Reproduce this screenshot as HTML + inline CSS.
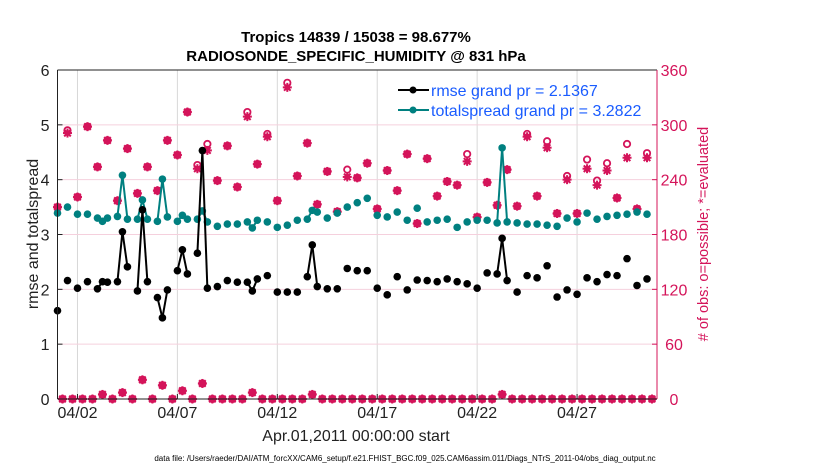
<!DOCTYPE html>
<html><head><meta charset="utf-8"><style>
body{margin:0;background:#fff;}
svg{display:block;font-family:"Liberation Sans",Arial,sans-serif;}
</style></head><body>
<svg id="chart" width="830" height="470" viewBox="0 0 830 470">
<rect width="830" height="470" fill="#fff"/>
<text x="356" y="42" text-anchor="middle" font-size="15" font-weight="bold">Tropics 14839 / 15038 = 98.677%</text>
<text x="356" y="61" text-anchor="middle" font-size="15" font-weight="bold">RADIOSONDE_SPECIFIC_HUMIDITY @ 831 hPa</text>
<g id="grid"></g>
<g id="marks"></g>
<g id="axes"></g>
<g>
<line x1="398" y1="90" x2="429" y2="90" stroke="#000" stroke-width="2"/>
<circle cx="413" cy="90" r="3.5" fill="#000"/>
<text x="431" y="96" font-size="16" fill="#1a5cff">rmse grand pr = 2.1367</text>
<line x1="398" y1="110" x2="429" y2="110" stroke="#008080" stroke-width="2"/>
<circle cx="413" cy="110" r="3.5" fill="#008080"/>
<text x="431" y="116" font-size="16" fill="#1a5cff">totalspread grand pr = 3.2822</text>
</g>
<text x="356" y="441" text-anchor="middle" font-size="16" fill="#222">Apr.01,2011 00:00:00 start</text>
<text transform="translate(38,234) rotate(-90)" text-anchor="middle" font-size="16" fill="#222">rmse and totalspread</text>
<text transform="translate(708,234) rotate(-90)" text-anchor="middle" font-size="14.5" fill="#d4145a"># of obs: o=possible; *=evaluated</text>
<text x="405" y="461" text-anchor="middle" font-size="8" fill="#000">data file: /Users/raeder/DAI/ATM_forcXX/CAM6_setup/f.e21.FHIST_BGC.f09_025.CAM6assim.011/Diags_NTrS_2011-04/obs_diag_output.nc</text>
</svg>
<script>
// times in 6-hour steps from Apr 01 00Z
const rmseK = [0,2,4,6,8,9,10,12,13,14,16,17,18,20,21,22,24,25,26,28,29,30,32,34,36,38,39,40,42,44,46,48,50,51,52,54,56,58,60,62,64,66,68,70,72,74,76,78,80,82,84,86,88,89,90,92,94,96,98,100,102,104,106,108,110,112,114,116,118];
const rmseVals = [1.61,2.16,2.02,2.14,2.01,2.14,2.13,2.14,3.05,2.41,1.97,3.45,2.14,1.85,1.48,1.99,2.34,2.72,2.28,2.66,4.53,2.02,2.05,2.16,2.13,2.13,1.97,2.19,2.25,1.95,1.95,1.95,2.23,2.81,2.05,2.01,2.01,2.38,2.34,2.34,2.02,1.90,2.23,1.99,2.17,2.16,2.14,2.19,2.14,2.10,2.02,2.30,2.28,2.93,2.16,1.95,2.25,2.21,2.43,1.86,1.99,1.91,2.21,2.14,2.27,2.25,2.56,2.07,2.19];
const spreadVals = [3.39,3.50,3.37,3.37,3.30,3.24,3.30,3.33,4.08,3.28,3.28,3.63,3.28,3.24,4.01,3.32,3.24,3.35,3.28,3.28,3.43,3.23,3.15,3.19,3.19,3.23,3.12,3.26,3.23,3.13,3.17,3.26,3.28,3.44,3.41,3.30,3.39,3.50,3.58,3.66,3.35,3.32,3.41,3.26,3.48,3.23,3.26,3.28,3.13,3.23,3.26,3.26,3.21,4.58,3.23,3.21,3.19,3.19,3.17,3.15,3.30,3.23,3.39,3.28,3.33,3.35,3.37,3.41,3.37];
const obsK = [0,2,4,6,8,10,12,14,16,18,20,22,24,26,28,30,32,34,36,38,40,42,44,46,48,50,52,54,56,58,60,62,64,66,68,70,72,74,76,78,80,82,84,86,88,90,92,94,96,98,100,102,104,106,108,110,112,114,116,118];
const evaluated = [210,291,221,298,254,283,217,274,225,254,228,283,267,314,252,272,239,277,232,309,257,287,217,341,244,280,213,249,205,243,242,258,208,250,228,268,192,263,222,238,234,260,199,237,212,251,211,287,222,275,203,240,203,252,234,250,220,264,208,264];
const possible = [210,294,221,298,254,283,217,274,225,254,228,283,267,314,256,279,239,277,232,314,257,290,217,346,244,280,213,249,205,251,242,258,208,250,228,268,192,263,222,238,234,268,199,237,212,251,211,290,222,282,203,244,203,262,239,258,220,279,208,269];
const offK = [1,3,5,7,9,11,13,15,17,19,21,23,25,27,29,31,33,35,37,39,41,43,45,47,49,51,53,55,57,59,61,63,65,67,69,71,73,75,77,79,81,83,85,87,89,91,93,95,97,99,101,103,105,107,109,111,113,115,117,119];
const offVals = [0,0,0,0,5,0,7,0,21,0,15,0,9,0,17,0,0,0,0,7,0,0,0,0,0,5,0,0,0,0,0,0,0,0,0,0,0,0,0,0,0,0,0,0,5,0,0,0,0,0,0,0,0,0,0,0,0,0,0,0];
const leftTicks = [0,1,2,3,4,5,6];
const rightTicks = [0,60,120,180,240,300,360];
const dateTicks = ["04/02","04/07","04/12","04/17","04/22","04/27"];
const dateTickDays = [1,6,11,16,21,26];

const X0=57.5, X1=657, Y0=399, Y1=70;
const xs = k => X0 + (X1-X0)*(k/4)/30;
const yl = v => Y0 - (Y0-Y1)*v/6;
const yr = v => Y0 - (Y0-Y1)*v/360;
const NS="http://www.w3.org/2000/svg";
function mk(tag, attrs, parent){const e=document.createElementNS(NS,tag);for(const a in attrs)e.setAttribute(a,attrs[a]);parent.appendChild(e);return e;}
const grid=document.getElementById('grid'), marks=document.getElementById('marks'), axes=document.getElementById('axes');
const PINK="#d4145a";

dateTickDays.forEach((d,i)=>{
  const x=X0+(X1-X0)*d/30;
  const l=mk('line',{x1:x,y1:Y1,x2:x,y2:Y0,stroke:'#d8d8d8','stroke-width':1},grid);
  
  
  const t=mk('text',{x:x,y:418,'text-anchor':'middle','font-size':16,fill:'#222'},axes);
  t.textContent=dateTicks[i];
  
  
  const tk=mk('line',{x1:x,y1:Y0,x2:x,y2:Y0-5,stroke:'#222'},axes);
  
  
});
rightTicks.forEach(v=>{
  const y=yr(v);
  if(v>0&&v<360){const g=mk('line',{x1:X0,y1:y,x2:X1,y2:y,stroke:'#f5d0dd','stroke-width':1},grid);
  
  }
  const t=mk('text',{x:674,y:y+6,'text-anchor':'middle','font-size':16,fill:PINK},axes);
  t.textContent=v;
  
  
  const tk=mk('line',{x1:X1,y1:y,x2:X1-5,y2:y,stroke:PINK},axes);
  
  
});
leftTicks.forEach(v=>{
  const y=yl(v);
  const t=mk('text',{x:X0-8,y:y+6,'text-anchor':'end','font-size':16,fill:'#222'},axes);
  t.textContent=v;
  
  
  const tk=mk('line',{x1:X0,y1:y,x2:X0+5,y2:y,stroke:'#222'},axes);
  
  
});
[[X0,Y1,X1,Y1,'#222','top-border'],[X0,Y0,X1,Y0,'#222','x-axis'],[X0,Y1,X0,Y0,'#222','left-axis'],[X1,Y1,X1,Y0,PINK,'right-axis']].forEach(a=>{
  const l=mk('line',{x1:a[0],y1:a[1],x2:a[2],y2:a[3],stroke:a[4],'stroke-width':1},axes);
  
  
});

function star(x,y,name){
  const g=mk('g',{stroke:PINK,'stroke-width':2},marks);
  
  
  const r=4.5;
  mk('line',{x1:x-r,y1:y,x2:x+r,y2:y},g);
  mk('line',{x1:x,y1:y-r,x2:x,y2:y+r},g);
  mk('line',{x1:x-3.3,y1:y-3.3,x2:x+3.3,y2:y+3.3},g);
  mk('line',{x1:x-3.3,y1:y+3.3,x2:x+3.3,y2:y-3.3},g);
  mk('circle',{cx:x,cy:y,r:3,fill:PINK,stroke:'none'},g);
}
function circ(x,y,name){
  const c=mk('circle',{cx:x,cy:y,r:3.2,fill:'none',stroke:PINK,'stroke-width':1.8},marks);
  
  
}
obsK.forEach((k,i)=>{circ(xs(k),yr(possible[i]),'possible-marker');star(xs(k),yr(evaluated[i]),'evaluated-marker');});
offK.forEach((k,i)=>{circ(xs(k),yr(offVals[i]),'possible-marker');star(xs(k),yr(offVals[i]),'evaluated-marker');});

function series(vals,color,name){
  for(let i=1;i<rmseK.length;i++){
    if(rmseK[i]-rmseK[i-1]===1){
      const l=mk('line',{x1:xs(rmseK[i-1]),y1:yl(vals[i-1]),x2:xs(rmseK[i]),y2:yl(vals[i]),stroke:color,'stroke-width':2},marks);
      
      
    }
  }
  rmseK.forEach((k,i)=>{
    const c=mk('circle',{cx:xs(k),cy:yl(vals[i]),r:3.8,fill:color},marks);
    
    
  });
}
series(spreadVals,'#008080','totalspread');
series(rmseVals,'#000','rmse');
</script>
</body></html>
